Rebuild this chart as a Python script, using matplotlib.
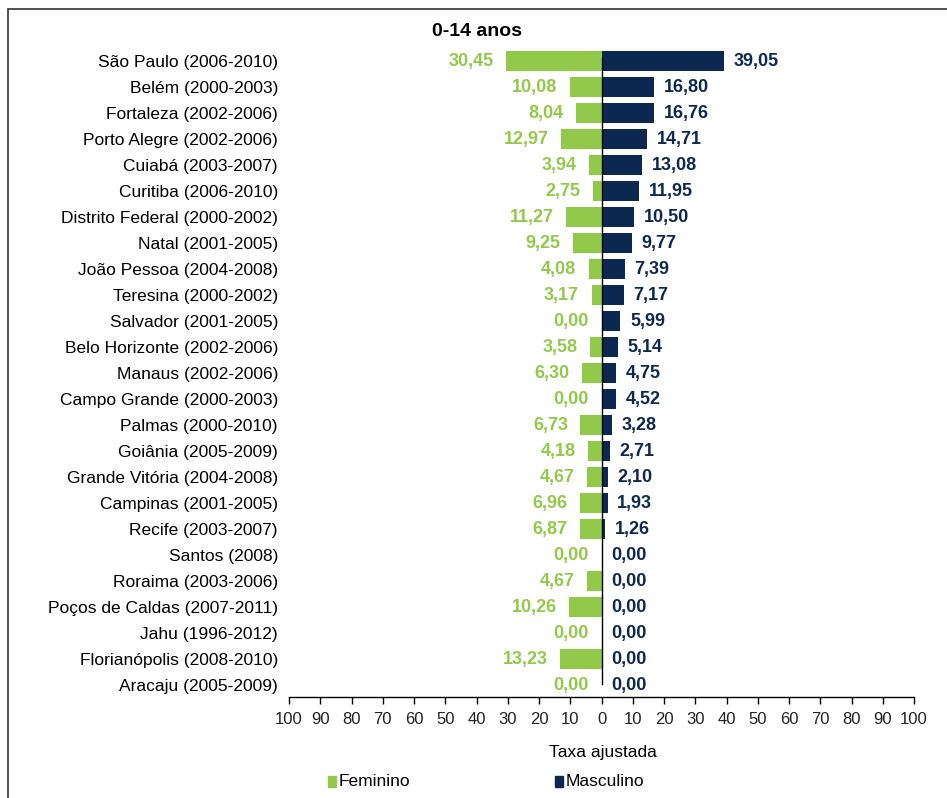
import numpy as np
import matplotlib
matplotlib.use('Agg')
import matplotlib.pyplot as plt
from matplotlib.patches import Rectangle

plt.rcParams['font.family'] = ['Liberation Sans', 'DejaVu Sans']

# taxa ajustada 0-14 anos por registro
cidades = ['São Paulo (2006-2010)', 'Belém (2000-2003)', 'Fortaleza (2002-2006)',
           'Porto Alegre (2002-2006)', 'Cuiabá (2003-2007)', 'Curitiba (2006-2010)',
           'Distrito Federal (2000-2002)', 'Natal (2001-2005)', 'João Pessoa (2004-2008)',
           'Teresina (2000-2002)', 'Salvador (2001-2005)', 'Belo Horizonte (2002-2006)',
           'Manaus (2002-2006)', 'Campo Grande (2000-2003)', 'Palmas (2000-2010)',
           'Goiânia (2005-2009)', 'Grande Vitória (2004-2008)', 'Campinas (2001-2005)',
           'Recife (2003-2007)', 'Santos (2008)', 'Roraima (2003-2006)',
           'Poços de Caldas (2007-2011)', 'Jahu (1996-2012)', 'Florianópolis (2008-2010)',
           'Aracaju (2005-2009)']
feminino = [30.45, 10.08, 8.04, 12.97, 3.94, 2.75, 11.27, 9.25, 4.08, 3.17, 0.00, 3.58,
            6.30, 0.00, 6.73, 4.18, 4.67, 6.96, 6.87, 0.00, 4.67, 10.26, 0.00, 13.23, 0.00]
masculino = [39.05, 16.80, 16.76, 14.71, 13.08, 11.95, 10.50, 9.77, 7.39, 7.17, 5.99, 5.14,
             4.75, 4.52, 3.28, 2.71, 2.10, 1.93, 1.26, 0.00, 0.00, 0.00, 0.00, 0.00, 0.00]
ticks = np.arange(-100, 101, 10)

verde = '#92C94B'
azul = '#0D2850'

fig = plt.figure(figsize=(9.47, 7.98), dpi=100)
ax = fig.add_axes([289 / 947, 1 - 697 / 798, 625 / 947, 649 / 798])

y = np.arange(len(cidades))
ax.barh(y, [-v for v in feminino], height=0.8, color=verde, zorder=2)
ax.barh(y, masculino, height=0.8, color=azul, zorder=2)
ax.axvline(0, ymin=0.02, ymax=0.985, color='black', lw=1, zorder=3)

for i in range(len(cidades)):
    f = feminino[i]
    m = masculino[i]
    ax.annotate(f'{f:.2f}'.replace('.', ','), (-f, i), xytext=(-9, 0),
                textcoords='offset points', ha='right', va='center',
                color=verde, fontsize=13, fontweight='bold')
    ax.annotate(f'{m:.2f}'.replace('.', ','), (m, i), xytext=(7, 0),
                textcoords='offset points', ha='left', va='center',
                color=azul, fontsize=13, fontweight='bold')

ax.set_xlim(-100, 100)
ax.set_ylim(24.46, -0.5)
ax.set_xticks(ticks)
ax.set_xticklabels([str(abs(t)) for t in ticks], fontsize=12, color='#222222')
ax.set_yticks(y)
ax.set_yticklabels(cidades, fontsize=12.5)
ax.tick_params(axis='y', length=0, pad=8)
ax.tick_params(axis='x', length=5, width=1, direction='out', pad=6)
for s in ['top', 'right', 'left']:
    ax.spines[s].set_visible(False)
ax.spines['bottom'].set_linewidth(1)

fig.text(477 / 947, 1 - 31 / 798, '0-14 anos', ha='center', va='center',
         fontsize=14, fontweight='bold')
fig.text(603 / 947, 1 - 753 / 798, 'Taxa ajustada', ha='center', va='center',
         fontsize=12.5)

# legenda
fig.patches.append(Rectangle((328 / 947, 1 - 787 / 798), 8 / 947, 11 / 798,
                             transform=fig.transFigure, color=verde))
fig.text(339 / 947, 1 - 781 / 798, 'Feminino', ha='left', va='center', fontsize=12.5)
fig.patches.append(Rectangle((555 / 947, 1 - 787 / 798), 8 / 947, 11 / 798,
                             transform=fig.transFigure, color=azul))
fig.text(566 / 947, 1 - 781 / 798, 'Masculino', ha='left', va='center', fontsize=12.5)

# moldura
fig.patches.append(Rectangle((8 / 947, -0.05), 1.1, 1 - 9 / 798 + 0.05,
                             transform=fig.transFigure, fill=False,
                             edgecolor='#333333', lw=1.2))

fig.savefig('out.png', dpi=100)
